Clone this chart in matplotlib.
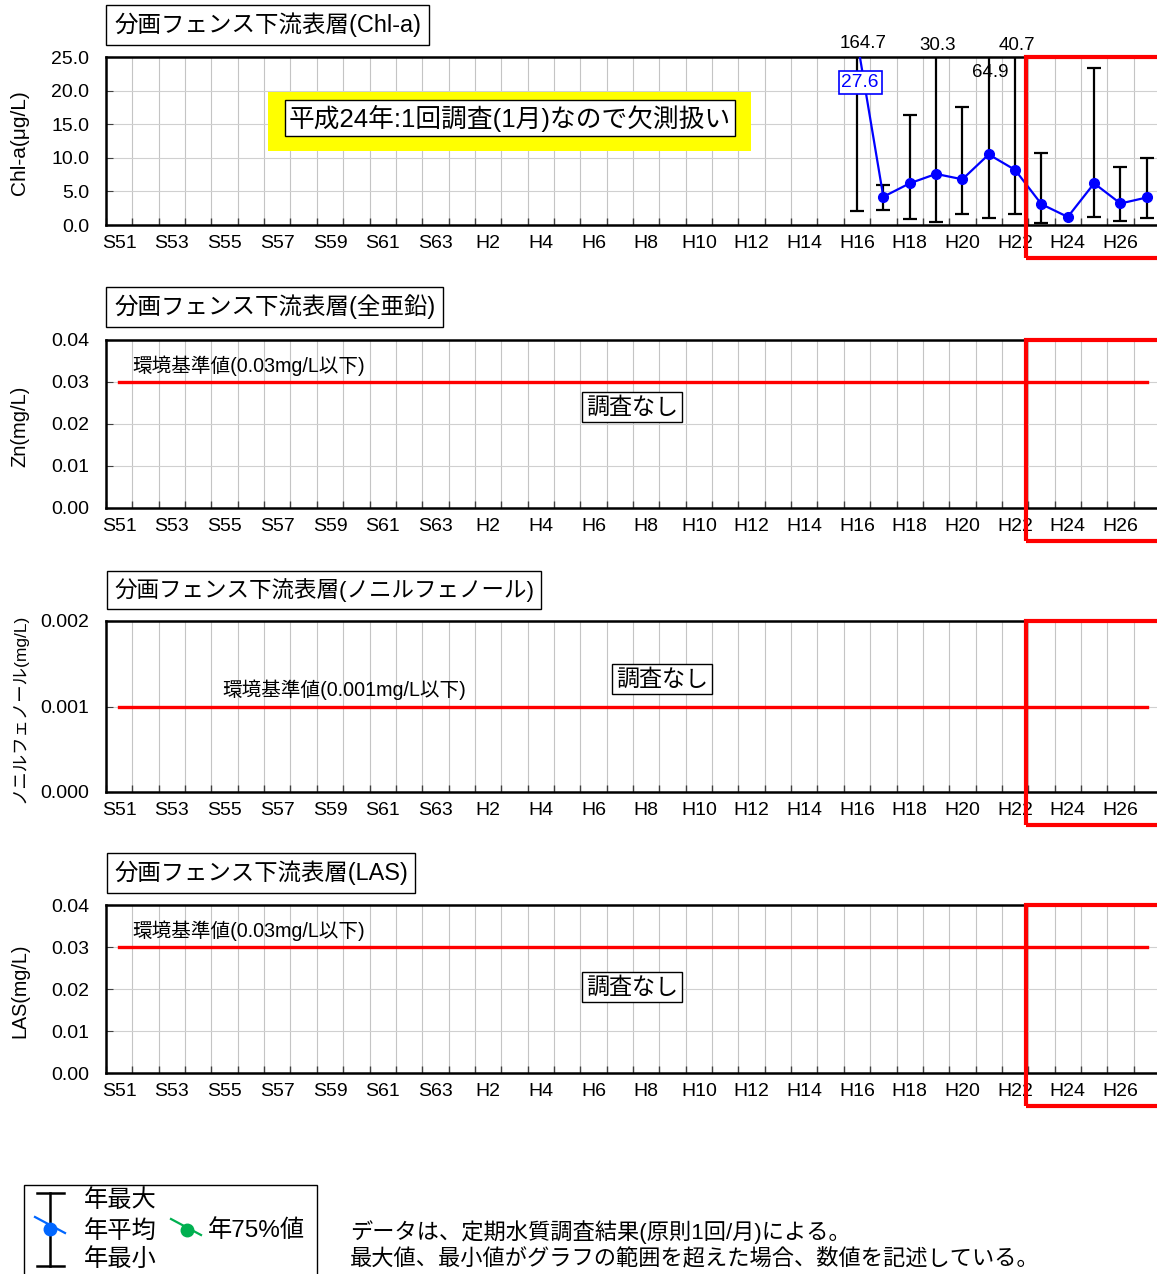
import matplotlib
matplotlib.use('Agg')
import matplotlib.pyplot as plt
import matplotlib.transforms as mtransforms
from matplotlib.patches import Rectangle
from matplotlib.lines import Line2D
import numpy as np

plt.rcParams['font.family'] = ['Liberation Sans', 'Noto Sans CJK JP', 'DejaVu Sans']

# ---------------- data ----------------
years = list(range(1976, 2016))            # S51 ... H27 (40 categories)
tick_labels = ['S51', 'S53', 'S55', 'S57', 'S59', 'S61', 'S63', 'H2', 'H4', 'H6',
               'H8', 'H10', 'H12', 'H14', 'H16', 'H18', 'H20', 'H22', 'H24', 'H26']

chl_years = list(range(2004, 2016))         # H16 ... H27
chl_mean = [27.6, 4.2, 6.2, 7.6, 6.8, 10.5, 8.2, 3.1, 1.2, 6.2, 3.2, 4.1]
chl_max = [164.7, 6.0, 16.4, 30.3, 17.6, 64.9, 40.7, 10.7, np.nan, 23.3, 8.7, 9.9]
chl_min = [2.1, 2.2, 0.9, 0.5, 1.6, 1.1, 1.6, 0.3, np.nan, 1.2, 0.6, 1.1]

zn_std = 0.03
np_std = 0.001
las_std = 0.03

titles = ['分画フェンス下流表層(Chl-a)', '分画フェンス下流表層(全亜鉛)',
          '分画フェンス下流表層(ノニルフェノール)', '分画フェンス下流表層(LAS)']
title_sizes = [16.9, 16.9, 16.2, 16.8]
ylabels = ['Chl-a(μg/L)', 'Zn(mg/L)', 'ノニルフェノール(mg/L)', 'LAS(mg/L)']
ylabel_sizes = [15, 14.5, 12.5, 14.2]

# ---------------- figure ----------------
W, H = 1157, 1274
fig = plt.figure(figsize=(W / 100, H / 100), dpi=100)

ov = fig.add_axes([0, 0, 1, 1], zorder=20)
ov.set_xlim(0, W)
ov.set_ylim(H, 0)
ov.axis('off')
ov.patch.set_alpha(0)

xpos = {y: i for i, y in enumerate(years)}


def make_panel(top, bottom, ylim, yticks, fmt, title, tsize, title_y, ylabel, ylsize):
    ax = fig.add_axes([106 / W, 1 - bottom / H, (1160 - 106) / W, (bottom - top) / H])
    ax.set_xlim(-0.5, len(years) - 0.5)
    ax.set_ylim(*ylim)
    ax.set_xticks(np.arange(0, len(years), 2))
    ax.set_xticklabels(tick_labels)
    ax.set_xticks(np.arange(-0.5, len(years), 1), minor=True)
    ax.set_yticks(yticks)
    ax.set_yticklabels([fmt.format(v) for v in yticks])
    ax.tick_params(axis='x', which='major', length=0, pad=7, labelsize=14)
    ax.tick_params(axis='x', which='minor', direction='in', length=5, color='#404040', width=1)
    ax.tick_params(axis='y', which='major', direction='in', length=5, pad=12, labelsize=14,
                   color='#404040')
    ax.grid(True, which='minor', axis='x', color='#c4c4c4', lw=0.8)
    ax.grid(True, which='major', axis='y', color='#d0d0d0', lw=0.8)
    ax.set_axisbelow(True)
    for s in ax.spines.values():
        s.set_linewidth(1.8)
    h = bottom - top
    trans = mtransforms.blended_transform_factory(ax.transData, ax.transAxes)
    ax.add_patch(Rectangle((34.42, -33 / h), 10, 1 + 33 / h, transform=trans, fill=False,
                           ec='red', lw=3, clip_on=False, zorder=10))
    ov.text(114, title_y, title, fontsize=tsize, ha='left', va='center',
            bbox=dict(boxstyle='square,pad=0.32', fc='white', ec='black', lw=1.0))
    ov.text(20, (top + bottom) / 2 + 2, ylabel, fontsize=ylsize, rotation=90,
            ha='center', va='center')
    return ax


# Panel 1: Chl-a
ax1 = make_panel(57, 225, (0, 25), [0, 5, 10, 15, 20, 25], '{:.1f}', titles[0], title_sizes[0],
                 25, ylabels[0], ylabel_sizes[0])
cx = [xpos[y] for y in chl_years]
mean = np.array(chl_mean)
mx = np.array(chl_max)
mn = np.array(chl_min)
ax1.errorbar(cx, mean, yerr=[mean - mn, mx - mean], fmt='none', ecolor='black',
             elinewidth=1.6, capsize=5, capthick=1.6, zorder=3)
ax1.plot(cx, mean, '-o', color='#0000ff', lw=1.6, ms=7, zorder=4)

trans1 = mtransforms.blended_transform_factory(ax1.transData, ax1.transAxes)
over = [(2004, chl_max, 0.25, 1.08), (2007, chl_max, 0.05, 1.068),
        (2010, chl_max, 0.08, 1.068), (2009, chl_max, 0.05, 0.905)]
for yr, arr, dx, ya in over:
    v = arr[chl_years.index(yr)]
    ax1.text(xpos[yr] + dx, ya, f'{v:.1f}', transform=trans1, fontsize=13.5,
             ha='center', va='center', clip_on=False, zorder=6)
v = chl_mean[0]
ax1.text(xpos[2004] + 0.12, 0.85, f'{v:.1f}', transform=trans1, fontsize=13.8, color='#0000ff',
         ha='center', va='center', zorder=6,
         bbox=dict(boxstyle='square,pad=0.15', fc='white', ec='#0000ff', lw=1.2))

# yellow note
ov.add_patch(Rectangle((268, 92), 483, 59, fc='#ffff00', ec='none', zorder=1))
ov.text(289, 118, '平成24年:1回調査(1月)なので欠測扱い', fontsize=18.5, ha='left', va='center',
        zorder=3, bbox=dict(boxstyle='square,pad=0.16', fc='white', ec='black', lw=1.0))

# Panel 2: Zn
ax2 = make_panel(340, 508, (0, 0.04), [0, 0.01, 0.02, 0.03, 0.04], '{:.2f}', titles[1],
                 title_sizes[1], 307, ylabels[1], ylabel_sizes[1])
ax2.plot([0, len(years) - 1], [zn_std, zn_std], color='red', lw=2.4, zorder=5)
ov.text(132, 366, f'環境基準値({zn_std:.2f}mg/L以下)', fontsize=14.1, ha='left', va='center')
ov.text(632, 407, '調査なし', fontsize=16.6, ha='center', va='center',
        bbox=dict(boxstyle='square,pad=0.16', fc='white', ec='black', lw=1.0))

# Panel 3: nonylphenol
ax3 = make_panel(621, 792, (0, 0.002), [0, 0.001, 0.002], '{:.3f}', titles[2], title_sizes[2],
                 590, ylabels[2], ylabel_sizes[2])
ax3.plot([0, len(years) - 1], [np_std, np_std], color='red', lw=2.4, zorder=5)
ov.text(222, 690, f'環境基準値({np_std:.3f}mg/L以下)', fontsize=14.1, ha='left', va='center')
ov.text(662, 679, '調査なし', fontsize=16.6, ha='center', va='center',
        bbox=dict(boxstyle='square,pad=0.16', fc='white', ec='black', lw=1.0))

# Panel 4: LAS
ax4 = make_panel(905, 1073, (0, 0.04), [0, 0.01, 0.02, 0.03, 0.04], '{:.2f}', titles[3],
                 title_sizes[3], 873, ylabels[3], ylabel_sizes[3])
ax4.plot([0, len(years) - 1], [las_std, las_std], color='red', lw=2.4, zorder=5)
ov.text(132, 931, f'環境基準値({las_std:.2f}mg/L以下)', fontsize=14.1, ha='left', va='center')
ov.text(632, 987, '調査なし', fontsize=16.6, ha='center', va='center',
        bbox=dict(boxstyle='square,pad=0.16', fc='white', ec='black', lw=1.0))

# ---------------- legend ----------------
ov.add_patch(Rectangle((24, 1185), 293, 100, fc='white', ec='black', lw=1.0, clip_on=False))
ov.add_line(Line2D([50, 50], [1193, 1266], color='black', lw=1.8))
ov.add_line(Line2D([37, 64], [1193, 1193], color='black', lw=1.8))
ov.add_line(Line2D([37, 64], [1266, 1266], color='black', lw=1.8))
ov.add_line(Line2D([35, 65], [1217, 1233], color='#0066ff', lw=1.6))
ov.plot([50], [1229], 'o', color='#0066ff', ms=9)
ov.add_line(Line2D([171, 201], [1219, 1235], color='#00b050', lw=1.6))
ov.plot([187], [1230], 'o', color='#00b050', ms=9)
ov.text(84, 1201, '年最大', fontsize=17.5, ha='left', va='center')
ov.text(84, 1231, '年平均', fontsize=17.5, ha='left', va='center')
ov.text(84, 1260, '年最小', fontsize=17.5, ha='left', va='center')
ov.text(208, 1231, '年75%値', fontsize=17.5, ha='left', va='center')

ov.text(350, 1232, 'データは、定期水質調査結果(原則1回/月)による。', fontsize=16.0,
        ha='left', va='center')
ov.text(350, 1259, '最大値、最小値がグラフの範囲を超えた場合、数値を記述している。', fontsize=16.0,
        ha='left', va='center')

fig.savefig('out.png', dpi=100)
